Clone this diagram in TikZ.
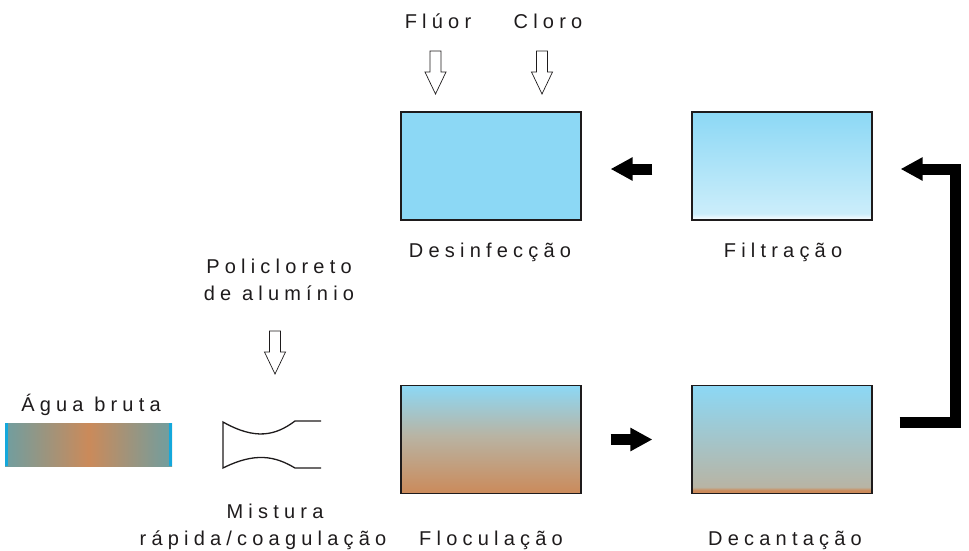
\documentclass[tikz,border=0pt]{standalone}
\usepackage{fontspec}
\setmainfont{Liberation Sans}
\newfontfamily\spacedfont{Liberation Sans}[LetterSpace=26]
\usetikzlibrary{arrows.meta,positioning}

\definecolor{waterblue}{RGB}{140,216,245}
\definecolor{silt}{RGB}{203,138,90}
\definecolor{murky}{RGB}{184,180,164}
\definecolor{rawedge}{RGB}{111,158,160}
\definecolor{rimcyan}{RGB}{20,168,220}
\definecolor{inkgrey}{RGB}{30,27,28}
\colorlet{filtlow}{waterblue!45}

% vertical fills of the tanks (25bp = bottom, 75bp = top)
\pgfdeclareverticalshading{filtshade}{100bp}{color(0bp)=(white); color(25bp)=(white); color(28bp)=(filtlow); color(75bp)=(waterblue); color(100bp)=(waterblue)}
\pgfdeclareverticalshading{flocshade}{100bp}{color(0bp)=(silt); color(25bp)=(silt); color(52bp)=(murky); color(75bp)=(waterblue); color(100bp)=(waterblue)}
\pgfdeclareverticalshading{decshade}{100bp}{color(0bp)=(silt); color(25bp)=(silt); color(26.5bp)=(silt); color(28bp)=(murky); color(75bp)=(waterblue); color(100bp)=(waterblue)}

\tikzset{
    tank/.style={draw=inkgrey, line width=1.2pt, minimum width=180pt, minimum height=108pt, inner sep=0pt},
    lbl/.style={font=\spacedfont\fontsize{20}{27}\selectfont, text=inkgrey, anchor=base, inner sep=0pt},
    flow/.style={line width=11pt, line join=miter, -{Triangle[length=22pt,width=22pt]}},
    doseline/.style={draw=inkgrey, fill=white, line width=0.7pt},
    dosearrow/.pic={\draw[doseline] (-5.5,0) -- (5.5,0) -- (5.5,21) -- (10.5,21) -- (0,43) -- (-10.5,21) -- (-5.5,21) -- cycle;}
}

\begin{document}
\begin{tikzpicture}[x=1pt, y=-1pt]
    \useasboundingbox (0,0) rectangle (969,550);

    % Tanks
    \node[tank, fill=waterblue] (dis) at (491,166) {};
    \node[tank, shade, shading=filtshade] (fil) at (782,166) {};
    \node[tank, shade, shading=flocshade] (flo) at (491,439.5) {};
    \node[tank, shade, shading=decshade] (dec) at (782,439.5) {};

    % Tank names
    \node[lbl] (disname) at ([xshift=-1pt,yshift=-37pt]dis.south) {Desinfecção};
    \node[lbl] (filname) at ([xshift=1pt,yshift=-37pt]fil.south) {Filtração};
    \node[lbl] (floname) at ([yshift=-51pt]flo.south) {Floculação};
    \node[lbl] (decname) at ([xshift=3pt,yshift=-51pt]dec.south) {Decantação};

    % Raw water
    \node[lbl] (raw) at (91,411) {Água bruta};
    \shade[left color=rawedge, right color=rawedge, middle color=silt] (5,423) rectangle (172,466);
    \foreach \xe in {6.5,170.5} {
        \draw[rimcyan, line width=3pt] (\xe,423) -- (\xe,466);
    }

    % Rapid mixing
    \draw[inkgrey, line width=1.3pt, line join=miter]
        (321,421) -- (295,421) .. controls (275,436) and (255,440) .. (223,422)
        -- (223,468) .. controls (255,452) and (275,456) .. (295,468) -- (321,468);
    \node[lbl] (mix1) at (275,518) {Mistura};
    \node[lbl] (mix2) at (263,545) {rápida/coagulação};

    % Chemicals dosed
    \node[lbl] (pac1) at (279,273) {Policloreto};
    \node[lbl] (pac2) at (279,300) {de alumínio};
    \node[lbl] (fluor) at (438,28) {Flúor};
    \node[lbl] (cloro) at (548,28) {Cloro};
    \pic at (275,331) {dosearrow};
    \pic at (435.5,51) {dosearrow};
    \pic at (542,51) {dosearrow};

    % Flow between tanks
    \draw[flow, shorten <=29pt, shorten >=39pt] (flo.east) -- (dec.west);
    \draw[flow] ([xshift=27pt,yshift=17.5pt]dec.east) -| ([xshift=83pt,yshift=-3pt]fil.east) -- ([xshift=28pt,yshift=-3pt]fil.east);
    \draw[flow, shorten <=39pt, shorten >=29pt] ([yshift=-3pt]fil.west) -- ([yshift=-3pt]dis.east);
\end{tikzpicture}
\end{document}
